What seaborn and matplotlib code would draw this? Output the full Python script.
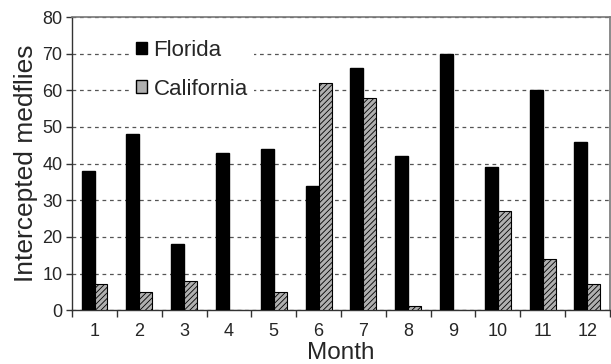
import matplotlib
matplotlib.use("Agg")
import matplotlib.pyplot as plt
import numpy as np
import pandas as pd
import seaborn as sns

# Datos
months = [str(m) for m in range(1, 13)]
florida = [38, 48, 18, 43, 44, 34, 66, 42, 70, 39, 60, 46]
california = [7, 5, 8, 0, 5, 62, 58, 1, 0, 27, 14, 7]

df = pd.DataFrame({"Month": months, "Florida": florida, "California": california})
df_long = df.melt(id_vars="Month", var_name="State", value_name="Count")

sns.set_style("white")
plt.rcParams["font.family"] = ["Liberation Sans", "DejaVu Sans"]
plt.rcParams["hatch.linewidth"] = 0.6

fig, ax = plt.subplots(figsize=(6.11, 3.64), dpi=100)
fig.subplots_adjust(left=0.118, right=0.998, top=0.953, bottom=0.148)

sns.barplot(data=df_long, x="Month", y="Count", hue="State",
            palette={"Florida": "black", "California": "#b0b0b0"},
            width=0.58, ax=ax, zorder=3)

# rayado para California
for bar in ax.containers[1]:
    bar.set_hatch("//////")
    bar.set_edgecolor("black")
    bar.set_linewidth(0.8)
for bar in ax.containers[0]:
    bar.set_edgecolor("black")

ax.set_ylim(0, 80)
ax.set_yticks(range(0, 81, 10))
ax.set_xlim(-0.5, 11.5)
ax.yaxis.grid(True, linestyle=(0, (3, 3)), color="#555555", linewidth=0.9, zorder=0)
ax.set_axisbelow(True)

ax.set_xticks(np.arange(-0.5, 12, 1), minor=True)
ax.tick_params(axis="x", which="major", length=0, labelsize=13, pad=9)
ax.tick_params(axis="x", which="minor", length=5, width=1, color="#333333", direction="out", bottom=True)
ax.tick_params(axis="y", length=4, width=1, color="#333333", direction="out", left=True, labelsize=13, pad=3)

for side in ["top", "right"]:
    ax.spines[side].set_color("#777777")
    ax.spines[side].set_linewidth(1.2)
for side in ["left", "bottom"]:
    ax.spines[side].set_color("#333333")
    ax.spines[side].set_linewidth(1)

ax.set_xlabel("Month", fontsize=17.5, labelpad=2)
ax.set_ylabel("Intercepted medflies", fontsize=19, labelpad=3)

# leyenda con fondo blanco que tapa la rejilla
leg = ax.legend(loc="upper left", bbox_to_anchor=(0.106, 0.945), frameon=True,
                facecolor="white", edgecolor="none", framealpha=1, fancybox=False,
                fontsize=16, handlelength=0.5, handleheight=0.5,
                handletextpad=0.3, labelspacing=0.8,
                borderaxespad=0, borderpad=0.3)
for h in leg.legend_handles:
    h.set_edgecolor("black")

fig.savefig("out.png", dpi=100)
